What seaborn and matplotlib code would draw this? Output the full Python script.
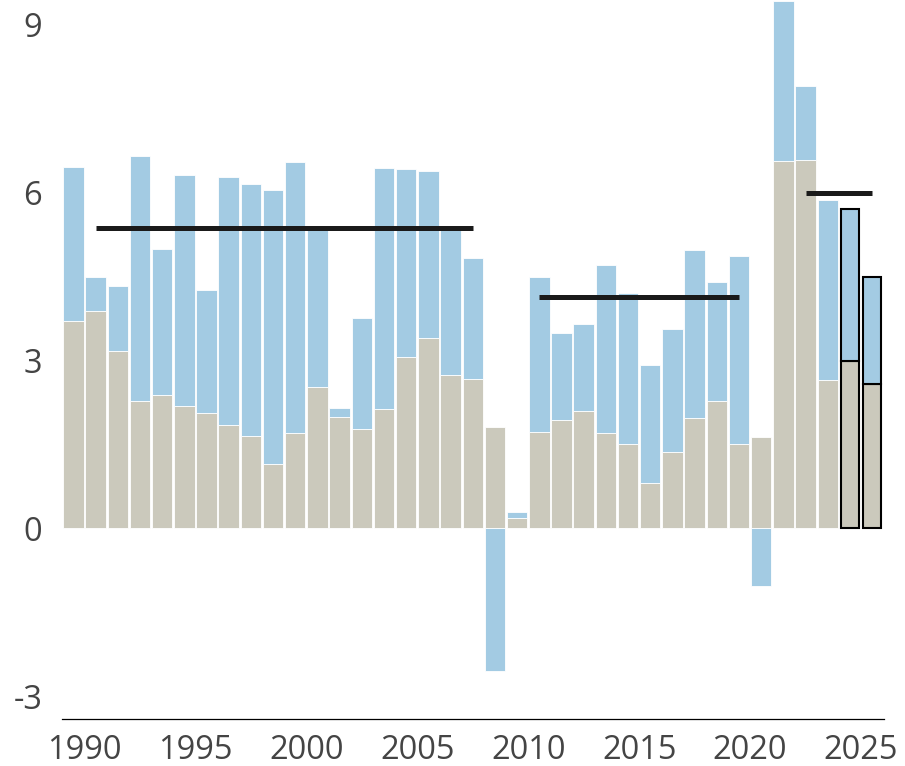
import numpy as np
import pandas as pd
import matplotlib.pyplot as plt
import seaborn as sns

# one bar per year, bottom (grey) part and top (blue) part
years = list(range(1989, 2026))
gray_part = [3.70, 3.88, 3.16, 2.26, 2.37, 2.18, 2.05, 1.84, 1.64, 1.14,
             1.69, 2.51, 1.98, 1.76, 2.12, 3.06, 3.39, 2.73, 2.67, 1.81,
             0.18, 1.71, 1.93, 2.09, 1.69, 1.50, 0.80, 1.36, 1.97, 2.26,
             1.50, 1.63, 6.55, 6.58, 2.65, 2.98, 2.58]
blue_part = [2.75, 0.60, 1.17, 4.39, 2.61, 4.12, 2.21, 4.43, 4.50, 4.89,
             4.84, 2.84, 0.17, 2.00, 4.31, 3.35, 2.98, 2.62, 2.15, -2.55,
             0.10, 2.78, 1.55, 1.56, 3.01, 2.69, 2.11, 2.19, 2.99, 2.13,
             3.36, -1.03, 2.87, 1.32, 3.20, 2.71, 1.91]
forecast_years = [2024, 2025]
avg_periods = [(1990, 2007), (2010, 2019), (2022, 2025)]
tick_years = list(range(1990, 2030, 5))

GRAY = '#cbc9bc'
BLUE = '#a3cbe3'
TEXT = '#444444'

sns.set_theme(style="white")
plt.rcParams['font.family'] = ['Open Sans', 'DejaVu Sans']
plt.rcParams['axes.unicode_minus'] = False

df = pd.DataFrame({'year': years, 'gray': gray_part, 'blue': blue_part})
df['x'] = df['year'] + 0.5
df['blue_base'] = np.where(df['blue'] >= 0, df['gray'], 0.0)
df['total'] = df['gray'] + df['blue']

fig = plt.figure(figsize=(9.05, 7.66), dpi=100)
ax = fig.add_axes([62.3 / 905, 47 / 766, (884.3 - 62.3) / 905, 719 / 766])

normal = df[~df['year'].isin(forecast_years)].reset_index(drop=True)
fcst = df[df['year'].isin(forecast_years)].reset_index(drop=True)

for part, w, ec, lw in [(normal, 0.92, 'white', 0.6), (fcst, 0.8, 'black', 1.5)]:
    sns.barplot(x=part['x'], y=part['gray'], native_scale=True, color=GRAY,
                saturation=1, width=w, edgecolor=ec, linewidth=lw,
                errorbar=None, ax=ax, zorder=2)
    sns.barplot(x=part['x'], y=part['blue'], native_scale=True, color=BLUE,
                saturation=1, width=w, edgecolor=ec, linewidth=lw,
                bottom=part['blue_base'].values, errorbar=None, ax=ax, zorder=2)

# period averages of the totals
for start, end in avg_periods:
    sel = df[(df['year'] >= start) & (df['year'] <= end)]
    ax.plot([start + 0.5, end + 0.5], [sel['total'].mean()] * 2,
            color='#1a1a1a', lw=3.6, solid_capstyle='butt', zorder=5)

ax.set_xlim(1989, 2026.05)
ax.set_ylim(-3.41, 9.43)
ax.set_yticks([-3, 0, 3, 6, 9])
ax.set_xticks(tick_years)
ax.set_xticklabels([str(y) for y in tick_years])
ax.set_xlabel('')
ax.set_ylabel('')
ax.tick_params(axis='both', length=0, labelsize=23.5, labelcolor=TEXT)
ax.tick_params(axis='y', pad=14.5)
ax.tick_params(axis='x', pad=11)

for side in ['top', 'right', 'left']:
    ax.spines[side].set_visible(False)
ax.spines['bottom'].set_color('black')
ax.spines['bottom'].set_linewidth(0.9)
ax.grid(False)

fig.savefig('out.png', dpi=100)
